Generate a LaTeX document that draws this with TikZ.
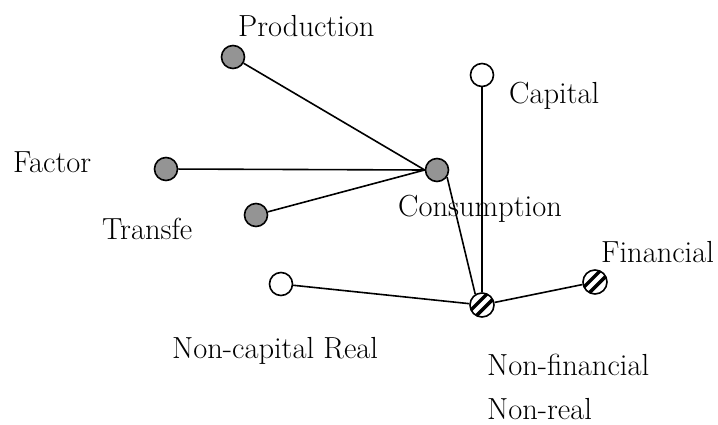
\documentclass[tikz,border=0pt]{standalone}
\begin{document}
\begin{tikzpicture}[x=1pt,y=-1pt,
  dot/.style={circle,draw,line width=1.6pt,minimum size=23pt,inner sep=0pt},
  grey/.style={dot,fill=black!42},
  open/.style={dot,fill=white},
  hatch/.style={dot,fill=white,minimum size=24pt,path picture={
     \begin{scope}[shift={(path picture bounding box.center)}]
       \foreach \o in {-4.2,3.6}{\draw[line width=3.4pt] ({\o*0.7071-16},{\o*0.7071+16}) -- ({\o*0.7071+16},{\o*0.7071-16});}
     \end{scope}}},
  lab/.style={anchor=base west,inner sep=0pt,font=\fontsize{30.5}{36}\selectfont},
  link/.style={line width=1.6pt}]
\useasboundingbox (0,0) rectangle (718,425);
% labels
\node[lab] (tprod) at (238,37) {Production};
\node[lab] (tcap) at (509,104) {Capital};
\node[lab] (tfac) at (13,172) {Factor};
\node[lab] (ttra) at (102,240) {Transfe};
\node[lab] (tcons) at (398,216) {Consumption};
\node[lab] (tfin) at (601,262) {Financial};
\node[lab] (tncr) at (172,358) {Non-capital Real};
\node[lab] (tnf) at (487,375) {Non-financial};
\node[lab] (tnr) at (487,419) {Non-real};
% nodes
\node[grey] (prod) at (233,57) {};
\node[grey] (fac) at (166,169) {};
\node[grey] (tra) at (256,215) {};
\node[grey] (cons) at (437,170) {};
\node[open] (cap) at (482,75) {};
\node[open] (ncr) at (281,284) {};
\node[hatch] (nf) at (482,305) {};
\node[hatch] (fin) at (595,282) {};
% links
\draw[link] (prod) -- (cons.west);
\draw[link] (fac) -- (cons.west);
\draw[link] (tra) -- (cons.west);
\draw[link] (cons.-35) -- (nf.122);
\draw[link] (cap) -- (nf);
\draw[link] (ncr) -- (nf);
\draw[link] (nf) -- (fin);
\end{tikzpicture}
\end{document}
